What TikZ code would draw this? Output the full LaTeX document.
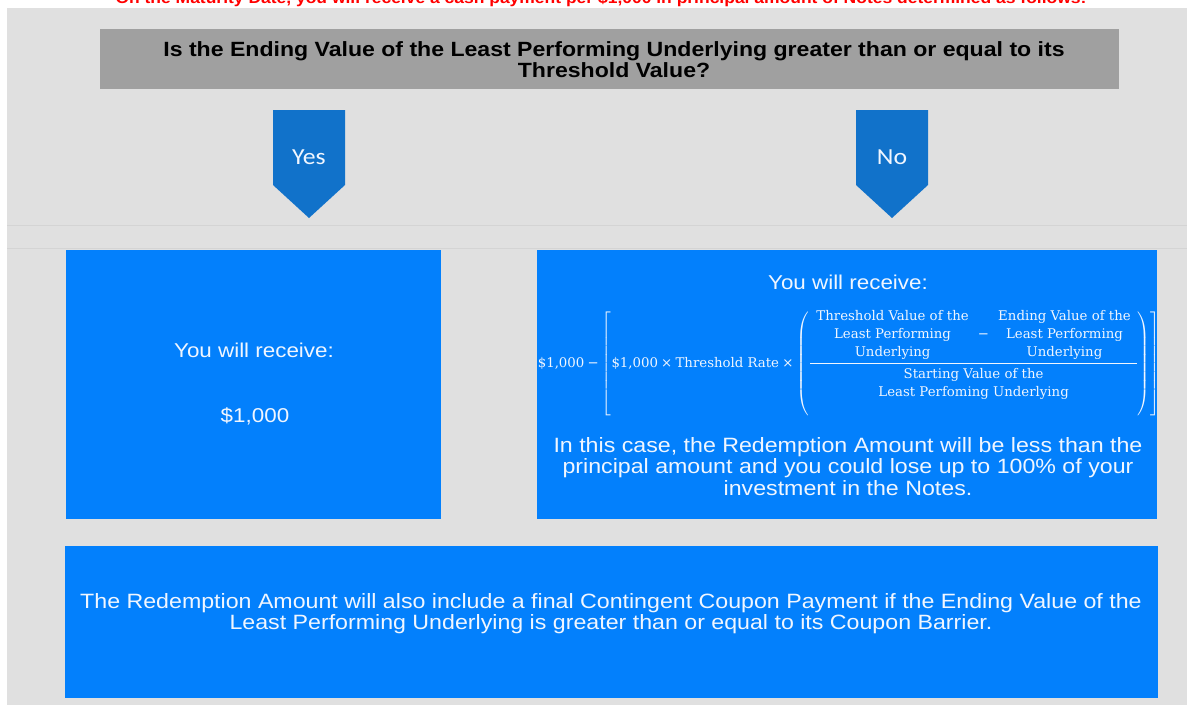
\documentclass[tikz,border=0pt]{standalone}
\usepackage{fontspec}
\usepackage{amsmath}
\setmainfont{Liberation Sans}[FakeStretch=1.12]
\newfontfamily\calw{Carlito}[FakeStretch=1.12]
\newfontfamily\fserif{DejaVu Serif}
\newcommand\fmin{\mathbin{\mbox{−}}}
\newcommand\fmul{\mathbin{\mbox{×}}}
\definecolor{bggray}{RGB}{224,224,224}
\definecolor{qgray}{RGB}{160,160,160}
\definecolor{chevblue}{RGB}{17,114,202}
\definecolor{boxblue}{RGB}{3,128,252}
\definecolor{boxtxt}{RGB}{240,246,255}
\definecolor{sepgray}{RGB}{212,212,212}
\tikzset{
  boxfill/.style={fill=boxblue, draw=none},
  chev/.style={fill=chevblue, draw=none},
  boxtext/.style={text=boxtxt, font=\fontsize{20.7}{21.5}\selectfont, align=center, inner sep=0pt, anchor=base},
  chevtext/.style={text=boxtxt, font=\calw\fontsize{23}{24}\selectfont, inner sep=0pt, anchor=base},
}
\begin{document}
\begin{tikzpicture}[x=1pt,y=-1pt]
\useasboundingbox (0,0) rectangle (1187,705);
\clip (0,0) rectangle (1187,705);
\fill[white] (0,0) rectangle (1187,705);
% top red caption (cut off at the top)
\node[text=red, font=\bfseries\fontsize{15.6}{18}\selectfont, inner sep=0pt, anchor=base] (caption) at (601,3)
  {On the Maturity Date, you will receive a cash payment per \$1,000 in principal amount of Notes determined as follows:};
% background
\fill[bggray] (7,8) rectangle (1187,705);
\draw[sepgray, line width=1pt] (7,225) -- (1187,225);
\draw[sepgray, line width=1pt] (7,248) -- (1187,248);
% question (base anchor = last line)
\fill[qgray] (100,29) rectangle (1119,89);
\node[font=\bfseries\fontsize{20.6}{21}\selectfont, align=center, inner sep=0pt, anchor=base] (question) at (614,77)
  {Is the Ending Value of the Least Performing Underlying greater than or equal to its\\Threshold Value?};
% chevrons
\fill[chev] (273,110) -- (345,110) -- (345,185) -- (309,218) -- (273,185) -- cycle;
\node[chevtext] (yes) at (309,164) {Yes};
\fill[chev] (856,110) -- (928,110) -- (928,185) -- (892,218) -- (856,185) -- cycle;
\node[chevtext] (no) at (892,164) {No};
% left box
\fill[boxfill] (66,250) rectangle (441,519);
\node[boxtext, font=\fontsize{20}{21}\selectfont] (lrec) at (254,357) {You will receive:};
\node[boxtext, font=\fontsize{20}{21}\selectfont] (lamt) at (255,422) {\$1,000};
% right box
\fill[boxfill] (537,250) rectangle (1157,519);
\node[boxtext, font=\fontsize{20}{21}\selectfont] (rrec) at (848,289) {You will receive:};
\node[text=boxtxt, font=\fserif\fontsize{13.3}{18}\selectfont, inner sep=0pt] (formula) at (849,361.5)
  {\setlength{\tabcolsep}{6pt}\delimitershortfall=12pt\delimiterfactor=880
   $\displaystyle \mbox{\$1,000} \fmin \left[\mbox{\$1,000} \fmul \mbox{Threshold Rate} \fmul
   \left(\frac{\mbox{\begin{tabular}{c}Threshold Value of the\\Least Performing\\Underlying\end{tabular}} \fmin \mbox{\begin{tabular}{c}Ending Value of the\\Least Performing\\Underlying\end{tabular}}}
   {\mbox{\begin{tabular}{c}Starting Value of the\\Least Perfoming Underlying\end{tabular}}}\right)\right]$};
\node[boxtext] (rcase) at (848,495)
  {In this case, the Redemption Amount will be less than the\\principal amount and you could lose up to 100\% of your\\investment in the Notes.};
% bottom box
\fill[boxfill] (65,546) rectangle (1158,698);
\node[boxtext, font=\fontsize{20.7}{21}\selectfont] (coupon) at (611,629)
  {The Redemption Amount will also include a final Contingent Coupon Payment if the Ending Value of the\\Least Performing Underlying is greater than or equal to its Coupon Barrier.};
\end{tikzpicture}
\end{document}
